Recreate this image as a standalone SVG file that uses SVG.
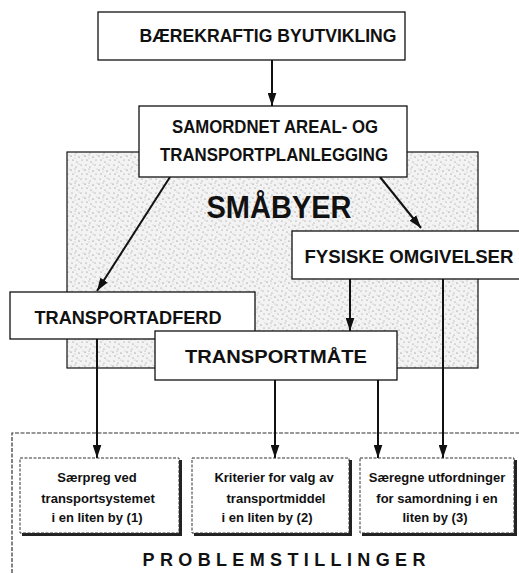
<svg xmlns="http://www.w3.org/2000/svg" width="519" height="573" viewBox="0 0 519 573">
<style>
.box{fill:#fff;stroke:#111;stroke-width:1.3}
.hd{font-family:"Liberation Sans",Arial,sans-serif;font-weight:bold;fill:#111;text-anchor:middle}
.pt{font-family:"Liberation Sans",Arial,sans-serif;font-weight:bold;font-size:13px;fill:#111;text-anchor:middle}
.conn{stroke:#111;stroke-width:2;fill:none}
.pbox{fill:#fff;stroke:#333;stroke-width:1;stroke-dasharray:3 1.5}
.shadow{fill:#222}
</style>
<defs>
<marker id="ah" viewBox="0 0 12 8" refX="12" refY="4" markerWidth="6.5" markerHeight="4.5" markerUnits="strokeWidth" orient="auto">
<path d="M0,0 L12,4 L0,8 z" fill="#111"/>
</marker>
<pattern id="stip" width="14" height="14" patternUnits="userSpaceOnUse">
<rect width="14" height="14" fill="#f3f3f3"/>
<circle cx="1" cy="2" r="0.6" fill="#666"/>
<circle cx="5" cy="1" r="0.5" fill="#888"/>
<circle cx="9" cy="3" r="0.6" fill="#666"/>
<circle cx="12" cy="6" r="0.5" fill="#777"/>
<circle cx="3" cy="6" r="0.6" fill="#777"/>
<circle cx="7" cy="8" r="0.5" fill="#666"/>
<circle cx="11" cy="11" r="0.6" fill="#888"/>
<circle cx="2" cy="11" r="0.5" fill="#666"/>
<circle cx="6" cy="13" r="0.5" fill="#777"/>
<circle cx="13" cy="1" r="0.4" fill="#888"/>
<circle cx="9" cy="10" r="0.4" fill="#777"/>
<circle cx="5" cy="4" r="0.4" fill="#888"/>
</pattern>
</defs>

<g id="smabyer">
<rect x="67" y="152" width="411" height="216" fill="url(#stip)" stroke="#111" stroke-width="1.2"/>
<text class="hd" x="279" y="218" font-size="32" textLength="145" lengthAdjust="spacingAndGlyphs">SMÅBYER</text>
</g>

<g id="problemstillinger">
<path d="M12,573 L12,433 L519,433" fill="none" stroke="#333" stroke-width="1.2" stroke-dasharray="4 1.5"/>
<text class="hd" x="284" y="566" font-size="18" textLength="283" lengthAdjust="spacing">PROBLEMSTILLINGER</text>
</g>

<g id="connectors">
<line class="conn" x1="272" y1="60" x2="272" y2="106" marker-end="url(#ah)"/>
<line class="conn" x1="170" y1="177" x2="97" y2="291" marker-end="url(#ah)"/>
<line class="conn" x1="380" y1="177" x2="421" y2="228" marker-end="url(#ah)"/>
<line class="conn" x1="350" y1="279" x2="350" y2="331" marker-end="url(#ah)"/>
<line class="conn" x1="443" y1="279" x2="443" y2="458" marker-end="url(#ah)"/>
<line class="conn" x1="97" y1="339" x2="97" y2="458" marker-end="url(#ah)"/>
<line class="conn" x1="275" y1="380" x2="275" y2="458" marker-end="url(#ah)"/>
<line class="conn" x1="378" y1="380" x2="378" y2="458" marker-end="url(#ah)"/>
</g>

<g id="baerekraftig">
<rect class="box" x="98" y="12" width="307" height="48"/>
<text class="hd" x="268" y="42" font-size="18" textLength="257" lengthAdjust="spacingAndGlyphs">BÆREKRAFTIG BYUTVIKLING</text>
</g>

<g id="samordnet">
<rect class="box" x="139" y="106" width="268" height="71"/>
<text class="hd" x="275" y="133" font-size="18" textLength="206" lengthAdjust="spacingAndGlyphs">SAMORDNET AREAL- OG</text>
<text class="hd" x="274" y="161" font-size="18" textLength="228" lengthAdjust="spacingAndGlyphs">TRANSPORTPLANLEGGING</text>
</g>

<g id="fysiske">
<rect class="box" x="292" y="231" width="230" height="48"/>
<text class="hd" x="409" y="263" font-size="18" textLength="209" lengthAdjust="spacingAndGlyphs">FYSISKE OMGIVELSER</text>
</g>

<g id="transportadferd">
<rect class="box" x="10" y="292" width="245" height="47"/>
<text class="hd" x="128" y="324" font-size="18" textLength="187" lengthAdjust="spacingAndGlyphs">TRANSPORTADFERD</text>
</g>

<g id="transportmate">
<rect class="box" x="155" y="331" width="242" height="49"/>
<text class="hd" x="276" y="363" font-size="18" textLength="182" lengthAdjust="spacingAndGlyphs">TRANSPORTMÅTE</text>
</g>

<g id="problem1">
<rect class="shadow" x="22" y="460" width="160" height="76"/>
<rect class="pbox" x="20" y="458" width="159" height="75"/>
<text class="pt" x="97" y="482">Særpreg ved</text>
<text class="pt" x="98" y="503">transportsystemet</text>
<text class="pt" x="97" y="522">i en liten by (1)</text>
</g>

<g id="problem2">
<rect class="shadow" x="194" y="460" width="158" height="76"/>
<rect class="pbox" x="192" y="458" width="157" height="75"/>
<text class="pt" x="274" y="482">Kriterier for valg av</text>
<text class="pt" x="276" y="503">transportmiddel</text>
<text class="pt" x="267" y="522">i en liten by (2)</text>
</g>

<g id="problem3">
<rect class="shadow" x="362" y="460" width="155" height="76"/>
<rect class="pbox" x="360" y="458" width="154" height="75"/>
<text class="pt" x="437" y="482">Særegne utfordninger</text>
<text class="pt" x="437" y="503">for samordning i en</text>
<text class="pt" x="435" y="522">liten by (3)</text>
</g>
</svg>
